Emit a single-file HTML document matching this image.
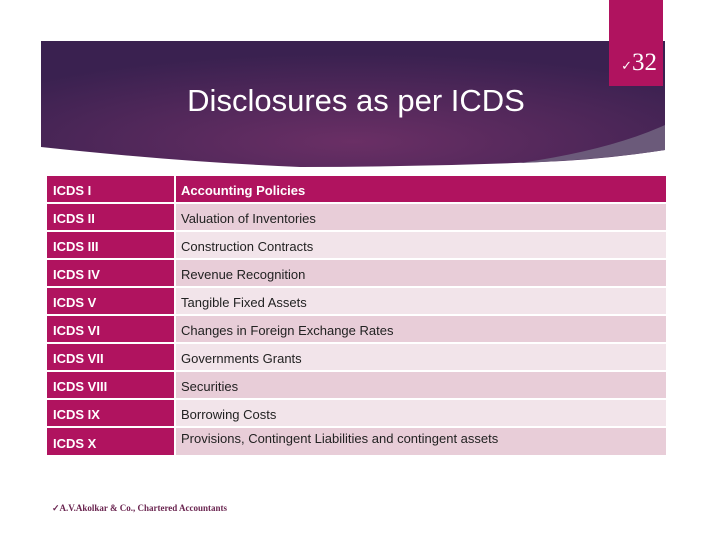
<!DOCTYPE html>
<html><head><meta charset="utf-8"><style>
body{margin:0;width:720px;height:540px;background:#fff;position:relative;overflow:hidden;font-family:"Liberation Sans",sans-serif}
#banner{position:absolute;left:0;top:0}
#badge{position:absolute;left:609px;top:0;width:54px;height:86px;background:#b0135f;color:#fff;font-family:"Liberation Serif",serif;font-size:25px;text-align:right;box-sizing:border-box;padding:49px 6px 0 0;line-height:28px}
#badge small{font-size:13px}
#title{position:absolute;left:0;width:712px;top:83px;text-align:center;color:#fff;font-size:31px}
.row{position:absolute;left:47px;width:619px;height:26px}
.c1{position:absolute;left:0;width:127px;height:100%;background:#b0135f;color:#fff;font-weight:bold;font-size:13px;padding-left:6px;box-sizing:border-box;line-height:29px}
.c2{position:absolute;left:129px;right:0;height:100%;font-size:13px;color:#222;padding-left:5px;box-sizing:border-box;line-height:29px}
#footer{position:absolute;left:52px;top:503px;font-family:"Liberation Serif",serif;font-size:9px;font-weight:bold;color:#6a2550}
</style></head><body>
<svg id="banner" width="720" height="180">
<defs><radialGradient id="g" cx="0.5" cy="0.8" r="0.7"><stop offset="0" stop-color="#6a2f65"/><stop offset="1" stop-color="#3a2150"/></radialGradient></defs>
<path d="M41 41 H665 V150 Q600 160 540 162 Q420 167 300 167 Q180 162 41 147 Z" fill="url(#g)"/>
<path d="M520 163 Q610 150 665 125 V150 Q600 160 520 163 Z" fill="#6b5a7a"/>
</svg>
<div id="badge"><small>✓</small>32</div>
<div id="title">Disclosures as per ICDS</div>
<div id="table"></div>
<div id="footer">✓A.V.Akolkar &amp; Co., Chartered Accountants</div>
<script>
const codes=["ICDS I","ICDS II","ICDS III","ICDS IV","ICDS V","ICDS VI","ICDS VII","ICDS VIII","ICDS IX","ICDS X"];
const names=["Accounting Policies","Valuation of Inventories","Construction Contracts","Revenue Recognition","Tangible Fixed Assets","Changes in Foreign Exchange Rates","Governments Grants","Securities","Borrowing Costs","Provisions, Contingent Liabilities and contingent assets"];
codes.forEach((c,i)=>{
 const r=document.createElement('div');r.className='row';
 
 
 r.style.top=(176+i*28)+'px';
 if(i==9){r.style.height='27px';}
 const a=document.createElement('div');a.className='c1';a.textContent=c;
 
 
 if(i==9){a.style.lineHeight='31px';}
 const b=document.createElement('div');b.className='c2';b.textContent=names[i];
 
 
 if(i==0){b.style.background='#b0135f';b.style.color='#fff';b.style.fontWeight='bold';}
 else b.style.background=(i%2==1)?'#e8cdd8':'#f2e4ea';
 if(i==9){b.style.lineHeight='22px';}
 r.appendChild(a);r.appendChild(b);
 document.getElementById('table').appendChild(r);
});
</script>
</body></html>
